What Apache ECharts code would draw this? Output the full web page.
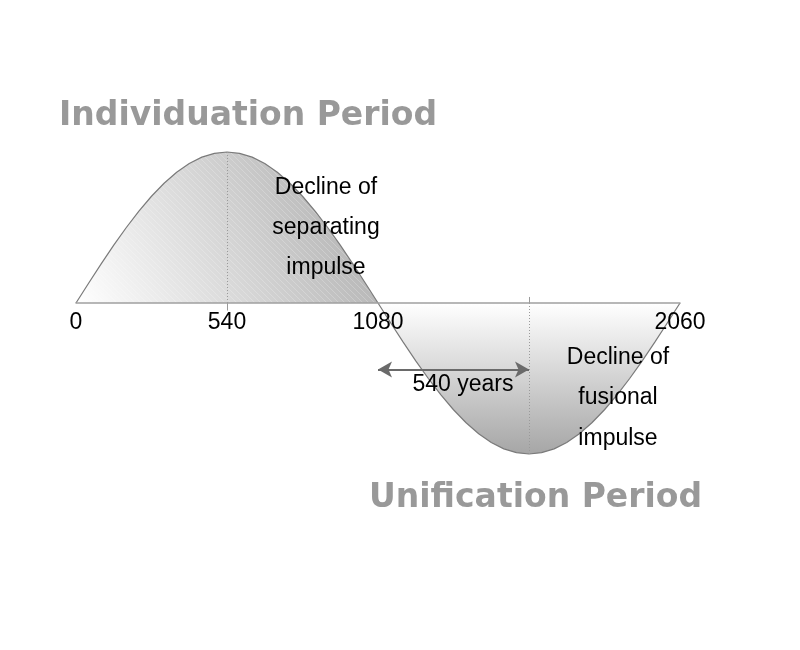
<!DOCTYPE html>
<html>
<head>
<meta charset="utf-8">
<script src="https://cdn.jsdelivr.net/npm/echarts@6/dist/echarts.min.js"></script>
<style>html,body{margin:0;padding:0;background:#fff}#c{width:800px;height:650px}</style>
</head>
<body>
<div id="c"></div>
<script>
// Data
const upperX = [0, 45, 90, 135, 180, 225, 270, 315, 360, 405, 450, 495, 540,
                585, 630, 675, 720, 765, 810, 855, 900, 945, 990, 1035, 1080];
const upperY = [0, 0.131, 0.259, 0.383, 0.5, 0.609, 0.707, 0.793, 0.866, 0.924, 0.966, 0.991, 1,
                0.991, 0.966, 0.924, 0.866, 0.793, 0.707, 0.609, 0.5, 0.383, 0.259, 0.131, 0];
const lowerX = [1080, 1125, 1170, 1215, 1260, 1305, 1350, 1395, 1440, 1485, 1530, 1575, 1620,
                1665, 1710, 1755, 1800, 1845, 1890, 1935, 1980, 2025, 2070, 2115, 2160];
const lowerY = [0, -0.131, -0.259, -0.383, -0.5, -0.609, -0.707, -0.793, -0.866, -0.924, -0.966, -0.991, -1,
                -0.991, -0.966, -0.924, -0.866, -0.793, -0.707, -0.609, -0.5, -0.383, -0.259, -0.131, 0];
const tickValues = [0, 540, 1080, 2160];
const tickLabels = ['0', '540', '1080', '2060'];
const arrowFrom = 1080, arrowTo = 1620, arrowLevel = -0.44;
const titles = ['Individuation Period', 'Unification Period'];
const notes = ['Decline of\nseparating\nimpulse', '540 years', 'Decline of\nfusional\nimpulse'];

const upperData = upperX.map((x, i) => [x, upperY[i]]);
const lowerData = lowerX.map((x, i) => [x, lowerY[i]]);

// faint diagonal stripe pattern
const pat = document.createElement('canvas');
pat.width = 6; pat.height = 6;
const pc = pat.getContext('2d');
pc.strokeStyle = 'rgba(255,255,255,0.22)';
pc.lineWidth = 1;
pc.beginPath(); pc.moveTo(0, 0); pc.lineTo(6, 6); pc.stroke();
pc.beginPath(); pc.moveTo(-3, 3); pc.lineTo(3, 9); pc.stroke();
pc.beginPath(); pc.moveTo(3, -3); pc.lineTo(9, 3); pc.stroke();

const chart = echarts.init(document.getElementById('c'));
const dotted = { color: '#9a9a9a', type: [1, 2], width: 1 };
const solidTick = { color: '#9a9a9a', type: 'solid', width: 1 };

chart.setOption({
  animation: false,
  backgroundColor: '#ffffff',
  grid: { left: 76, right: 120, top: 152, bottom: 196, containLabel: false },
  xAxis: {
    type: 'value', min: 0, max: 2160, interval: 540,
    position: 'bottom', offset: -151,
    axisLine: { onZero: false, lineStyle: { color: '#a0a0a0', width: 1.5 } },
    axisTick: { show: false },
    splitLine: { show: false },
    axisLabel: {
      showMinLabel: true, showMaxLabel: true,
      margin: 8,
      color: '#000', fontSize: 23, fontFamily: 'Liberation Sans',
      formatter: v => { const i = tickValues.indexOf(v); return i >= 0 ? tickLabels[i] : ''; }
    },
    z: 5
  },
  yAxis: { type: 'value', min: -1, max: 1, show: false },
  series: [
    {
      type: 'line', data: upperData, smooth: false, symbol: 'none', clip: false,
      lineStyle: { color: '#7a7a7a', width: 1.2 },
      areaStyle: {
        origin: 0, opacity: 1,
        color: new echarts.graphic.LinearGradient(0, 1, 0.9, 0.15, [
          { offset: 0, color: '#ffffff' },
          { offset: 1, color: '#b2b2b2' }
        ])
      },
      z: 2,
      markLine: {
        silent: true, symbol: 'none', label: { show: false },
        data: [
          [{ coord: [540, 1], lineStyle: dotted }, { coord: [540, 0] }],
          [{ coord: [540, 0], lineStyle: solidTick }, { coord: [540, -0.05] }],
          [{ coord: [1620, 0.04], lineStyle: solidTick }, { coord: [1620, 0] }],
          [{ coord: [1620, 0], lineStyle: dotted }, { coord: [1620, -1] }],
          [{ coord: [1080, 0], lineStyle: dotted }, { coord: [1080, -1.04] }]
        ]
      }
    },
    {
      type: 'line', data: upperData, smooth: false, symbol: 'none', clip: false,
      lineStyle: { width: 0 },
      areaStyle: { origin: 0, opacity: 1, color: { image: pat, repeat: 'repeat' } },
      z: 2
    },
    {
      type: 'line', data: lowerData, smooth: false, symbol: 'none', clip: false,
      lineStyle: { color: '#7a7a7a', width: 1.2 },
      areaStyle: {
        origin: 0, opacity: 1,
        color: new echarts.graphic.LinearGradient(0, 0, 0, 1, [
          { offset: 0, color: '#ffffff' },
          { offset: 1, color: '#a6a6a6' }
        ])
      },
      z: 2,
      markLine: {
        silent: true, symbol: ['arrow', 'arrow'], symbolSize: [12, 14], label: { show: false },
        lineStyle: { color: '#6a6a6a', type: 'solid', width: 2 },
        data: [[{ coord: [arrowFrom, arrowLevel] }, { coord: [arrowTo, arrowLevel] }]]
      }
    }
  ],
  graphic: [
    { type: 'text', left: 59, top: 100, z: 10,
      style: { text: titles[0], fill: '#999999', font: 'bold 33px "DejaVu Sans"' } },
    { type: 'text', left: 369, top: 482, z: 10,
      style: { text: titles[1], fill: '#999999', font: 'bold 33px "DejaVu Sans"' } },
    { type: 'text', x: 326, y: 228, z: 10,
      style: { text: notes[0], fill: '#000', font: '23px "Liberation Sans"', align: 'center', verticalAlign: 'middle', lineHeight: 40 } },
    { type: 'text', x: 463, y: 385, z: 10,
      style: { text: notes[1], fill: '#000', font: '23px "Liberation Sans"', align: 'center', verticalAlign: 'middle' } },
    { type: 'text', x: 618, y: 398, z: 10,
      style: { text: notes[2], fill: '#000', font: '23px "Liberation Sans"', align: 'center', verticalAlign: 'middle', lineHeight: 40.5 } }
  ]
});
</script>
</body>
</html>
